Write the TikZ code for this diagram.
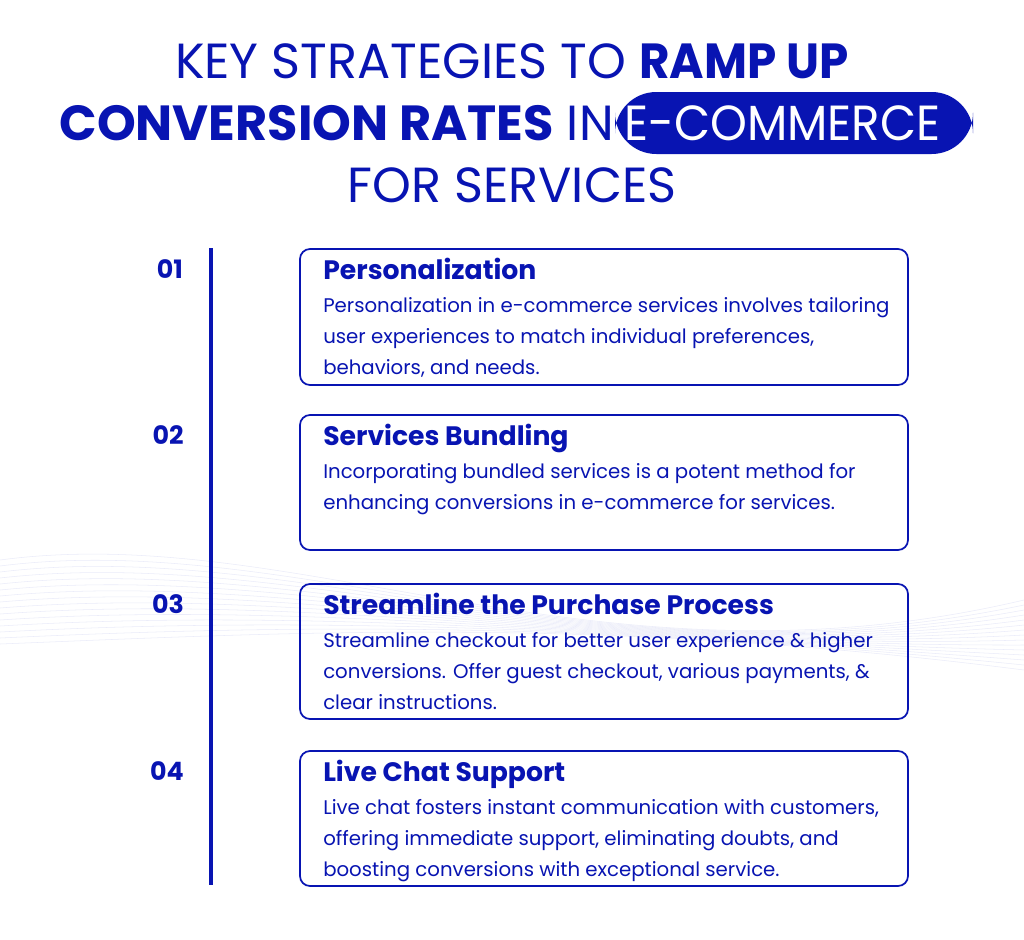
\documentclass[tikz,border=0pt]{standalone}
\usepackage{fontspec}
\setmainfont{Poppins}
\definecolor{kb}{RGB}{8,20,178}
\begin{document}
\begin{tikzpicture}[x=0.75pt,y=-0.75pt,
  ttl/.style={text=kb,font=\fontsize{37}{44}\selectfont,inner sep=0},
  num/.style={text=kb,font=\fontsize{19}{22}\selectfont\bfseries,inner sep=0},
  box/.style={draw=kb,line width=1.3pt,rounded corners=7.5pt},
  head/.style={text=kb,font=\fontsize{20}{24}\selectfont\bfseries,inner sep=0,anchor=base west},
  body/.style={text=kb,font=\fontsize{14.8}{23.3}\selectfont,inner sep=0,anchor=north west,align=left}]
\useasboundingbox (0,0) rectangle (1024,939);
\fill[white] (0,0) rectangle (1024,939);
\foreach \i in {0,...,14}{
  \draw[kb!8,line width=0.4pt] (0,560+\i*6) .. controls (300,520+\i*8) and (600,700-\i*6) .. (1024,600+\i*5);
}
\node[ttl,anchor=base] (t1) at (512,78) {KEY STRATEGIES TO \textbf{\scalebox{0.95}[1]{RAMP UP}}};
\node[fill=kb,rounded corners=31pt,minimum width=358pt*0.75,minimum height=62pt*0.75,inner sep=0] (pill) at (794,123) {};
\node[ttl,text=white,anchor=base west] (ec) at (624,140) {\scalebox{0.95}[1]{E-COMMERCE}};
\node[ttl,anchor=base east] (t2) at (614,140) {\textbf{CONVERSION RATES} IN};
\node[ttl,anchor=base] (t3) at (512,202) {FOR SERVICES};
\coordinate (la) at (211,248); \coordinate (lb) at (211,885);
\draw[kb,line width=2.4pt] (la) -- (lb);
\foreach \n/\y/\t in {1/249/136,2/415/135,3/584/135,4/751/135}{
  \draw[box] (300,\y) rectangle (908,\y+\t);
}
\node[num,anchor=base] (n1) at (170,278) {01};
\node[num,anchor=base] (n2) at (168,444) {02};
\node[num,anchor=base] (n3) at (168,613) {03};
\node[num,anchor=base] (n4) at (167,780) {04};
\node[head] (h1) at (323,279) {Personalization};
\node[body] (b1) at (323,297) {Personalization in e-commerce services involves tailoring\\user experiences to match individual preferences,\\behaviors, and needs.};
\node[head] (h2) at (323,445) {Services Bundling};
\node[body] (b2) at (323,463) {Incorporating bundled services is a potent method for\\enhancing conversions in e-commerce for services.};
\node[head] (h3) at (323,614) {Streamline the Purchase Process};
\node[body] (b3) at (323,632) {Streamline checkout for better user experience \& higher\\conversions. Offer guest checkout, various payments, \&\\clear instructions.};
\node[head] (h4) at (323,781) {Live Chat Support};
\node[body] (b4) at (323,799) {Live chat fosters instant communication with customers,\\offering immediate support, eliminating doubts, and\\boosting conversions with exceptional service.};
\end{tikzpicture}
\end{document}
